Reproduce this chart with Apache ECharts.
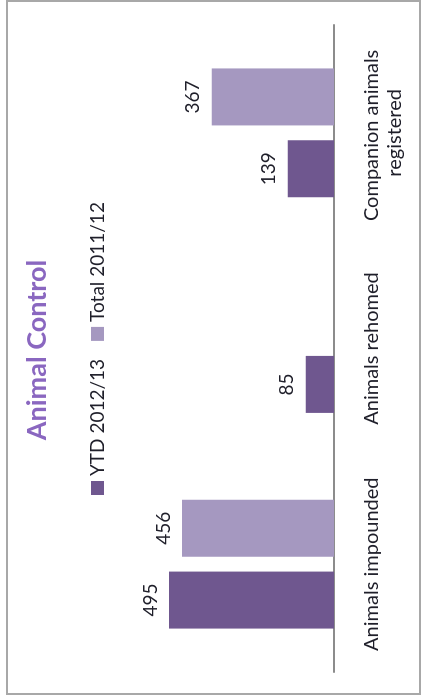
<!DOCTYPE html>
<html>
<head>
<meta charset="utf-8">
<script src="https://cdn.jsdelivr.net/npm/echarts@6/dist/echarts.min.js"></script>
<style>
  html, body { margin: 0; padding: 0; background: #fff; overflow: hidden; }
  #page { position: relative; width: 423px; height: 700px; overflow: hidden; background: #fff; }
  /* the column chart is laid out landscape and turned a quarter turn anticlockwise */
  #chart {
    position: absolute; left: 0; top: 0;
    width: 700px; height: 423px;
    transform-origin: 0 0;
    transform: translate(0, 700px) rotate(-90deg);
  }
</style>
</head>
<body>
<div id="page"><div id="chart"></div></div>
<script>
const categories = ['Animals impounded', 'Animals rehomed', 'Companion animals registered'];
const seriesNames = ['YTD 2012/13', 'Total 2011/12'];
const ytd2012 = [495, 85, 139];
const total2011 = [456, null, 367];

const FONT = 'Lato, "Liberation Sans", sans-serif';
const TEXT = '#1f1f2a';

const chart = echarts.init(document.getElementById('chart'), null, { renderer: 'canvas' });

chart.setOption({
  animation: false,
  backgroundColor: '#ffffff',
  title: {
    text: 'Animal Control',
    left: 'center',
    top: 24,
    padding: 0,
    textStyle: { color: '#8a67c0', fontSize: 27, fontWeight: 'bold', fontFamily: FONT }
  },
  legend: {
    data: seriesNames,
    left: 205,
    top: 88,
    padding: 0,
    itemWidth: 14,
    itemHeight: 13,
    itemGap: 18,
    icon: 'rect',
    textStyle: { color: TEXT, fontSize: 19, fontFamily: FONT }
  },
  grid: { left: 28, right: 25, top: 134, bottom: 89, containLabel: false },
  xAxis: {
    type: 'category',
    data: categories,
    axisLine: { show: true, lineStyle: { color: '#8c8c8c', width: 2 } },
    axisTick: { show: false },
    axisLabel: {
      interval: 0,
      margin: 26,
      color: TEXT,
      fontSize: 20,
      lineHeight: 23,
      fontFamily: FONT,
      width: 200,
      overflow: 'break'
    }
  },
  yAxis: {
    type: 'value',
    min: 0,
    max: 600,
    show: false,
    splitLine: { show: false }
  },
  series: [
    {
      name: seriesNames[0],
      type: 'bar',
      data: ytd2012,
      barWidth: 57,
      barGap: '26%',
      itemStyle: { color: '#6f578f' },
      label: { show: true, position: 'top', distance: 9, color: TEXT, fontSize: 19, fontFamily: FONT }
    },
    {
      name: seriesNames[1],
      type: 'bar',
      data: total2011,
      barWidth: 57,
      barGap: '26%',
      itemStyle: { color: '#a598c0' },
      label: { show: true, position: 'top', distance: 9, color: TEXT, fontSize: 19, fontFamily: FONT }
    }
  ],
  graphic: [
    {
      type: 'rect',
      silent: true,
      shape: { x: 6, y: 7, width: 693, height: 413 },
      style: { fill: null, stroke: '#a8a8a8', lineWidth: 2 }
    }
  ]
});
</script>
</body>
</html>
